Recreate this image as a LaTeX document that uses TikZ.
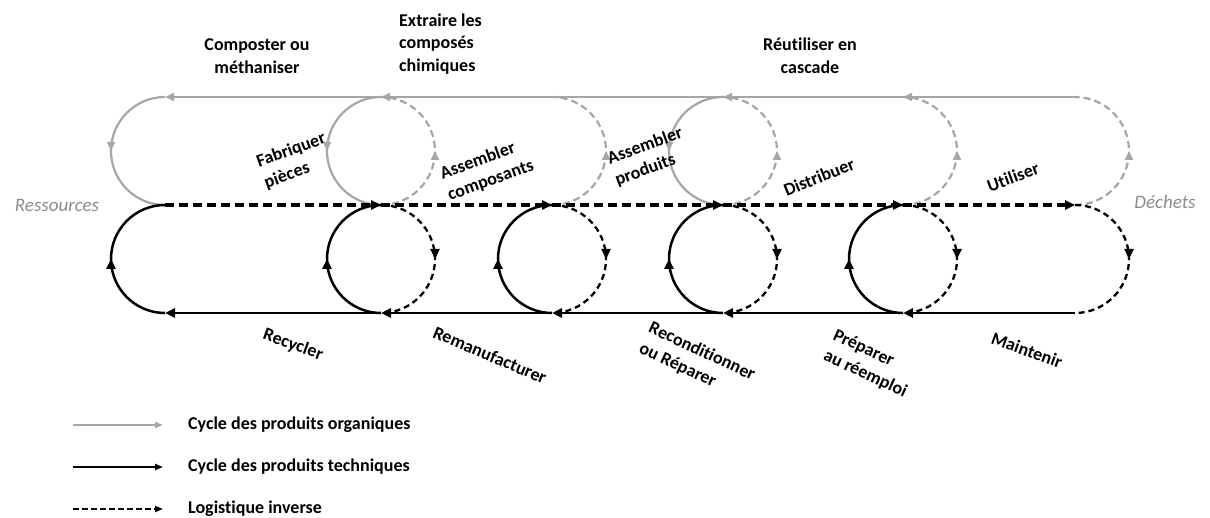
\documentclass[tikz,border=0pt]{standalone}
\usepackage{fontspec}
\setmainfont[Ligatures=NoCommon]{Carlito}
\usepackage{tikz}
\usetikzlibrary{arrows.meta,decorations.markings,positioning}
\definecolor{orggray}{RGB}{166,166,166}
\definecolor{endgray}{RGB}{140,140,140}

\begin{document}
\begin{tikzpicture}[x=1pt,y=1pt,
organic/.style={draw=orggray,line width=2.2pt},
orgdash/.style={organic,dash pattern=on 7pt off 4pt},
technic/.style={draw=black,line width=2.5pt},
inverse/.style={draw=black,line width=3.3pt,dash pattern=on 9pt off 5pt},
invarc/.style={draw=black,line width=2.3pt,dash pattern=on 6pt off 4pt},
gtip/.style={-{Triangle[length=9pt,width=8pt]}},
btip/.style={-{Triangle[length=10pt,width=9pt]}},
gmid/.style={postaction={decorate,decoration={markings,
    mark=at position 0.5 with {\arrow{Triangle[length=9pt,width=8pt,color=orggray]}}}}},
bmid/.style={postaction={decorate,decoration={markings,
    mark=at position 0.5 with {\arrow{Triangle[length=10pt,width=9pt,color=black]}}}}},
lbl/.style={font=\bfseries\fontsize{18}{22.5}\selectfont,inner sep=0pt},
endlbl/.style={font=\itshape\fontsize{19}{23}\selectfont,text=endgray,inner sep=0pt}
]
\useasboundingbox (0,0) rectangle (1210,-518);
%
\foreach \n/\x in {0/165,1/381,2/552,3/723,4/903,5/1075}{
  \coordinate (t\n) at (\x,-97);
  \coordinate (m\n) at (\x,-205);
  \coordinate (b\n) at (\x,-313);
}
% organic cycle
\draw[organic,gtip] (t5) -- (t4);
\draw[organic,gtip] (t4) -- (t3);
\draw[organic,gtip] (t3) -- (t1);
\draw[organic,gtip] (t1) -- (t0);
\draw[organic,gmid] (t0) arc[start angle=90,end angle=270,radius=54];
\draw[organic,gmid] (t1) arc[start angle=90,end angle=270,radius=54];
\draw[organic,gmid] (t3) arc[start angle=90,end angle=270,radius=54];
\draw[orgdash,gmid] (m1) arc[start angle=-90,end angle=90,radius=54];
\draw[orgdash,gmid] (m2) arc[start angle=-90,end angle=90,radius=54];
\draw[orgdash,gmid] (m3) arc[start angle=-90,end angle=90,radius=54];
\draw[orgdash,gmid] (m4) arc[start angle=-90,end angle=90,radius=54];
\draw[orgdash,gmid] (m5) arc[start angle=-90,end angle=90,radius=54];
% technical cycle
\draw[technic,btip] (b5) -- (b4);
\draw[technic,btip] (b4) -- (b3);
\draw[technic,btip] (b3) -- (b2);
\draw[technic,btip] (b2) -- (b1);
\draw[technic,btip] (b1) -- (b0);
\draw[technic,bmid] (b0) arc[start angle=270,end angle=90,radius=54];
\draw[technic,bmid] (b1) arc[start angle=270,end angle=90,radius=54];
\draw[technic,bmid] (b2) arc[start angle=270,end angle=90,radius=54];
\draw[technic,bmid] (b3) arc[start angle=270,end angle=90,radius=54];
\draw[technic,bmid] (b4) arc[start angle=270,end angle=90,radius=54];
\draw[invarc,bmid] (m1) arc[start angle=90,end angle=-90,radius=54];
\draw[invarc,bmid] (m2) arc[start angle=90,end angle=-90,radius=54];
\draw[invarc,bmid] (m3) arc[start angle=90,end angle=-90,radius=54];
\draw[invarc,bmid] (m4) arc[start angle=90,end angle=-90,radius=54];
\draw[invarc,bmid] (m5) arc[start angle=90,end angle=-90,radius=54];
% main flow
\draw[inverse,btip] (m0) -- (m1);
\draw[inverse,btip] (m1) -- (m2);
\draw[inverse,btip] (m2) -- (m3);
\draw[inverse,btip] (m3) -- (m4);
\draw[inverse,btip] (m4) -- (m5);
% labels
\node[endlbl] (res) at (57,-205) {Ressources};
\node[endlbl] (dec) at (1165,-202) {Déchets};
\node[lbl,align=center] (compost) at (257,-56) {Composter ou\\méthaniser};
\node[lbl,align=left,anchor=west] (extract) at (399,-44) {Extraire les\\composés\\chimiques};
\node[lbl,align=center] (cascade) at (810,-56) {Réutiliser en\\cascade};
\node[lbl,align=left,rotate=20] (fab) at (295,-161) {Fabriquer\\pièces};
\node[lbl,align=left,rotate=20] (asmc) at (487,-170) {Assembler\\composants};
\node[lbl,align=left,rotate=20] (asmp) at (649,-157) {Assembler\\produits};
\node[lbl,rotate=22] (distr) at (819,-177) {Distribuer};
\node[lbl,rotate=20] (util) at (1013,-177) {Utiliser};
\node[lbl,rotate=-20] (recyc) at (293,-345) {Recycler};
\node[lbl,rotate=-23] (reman) at (490,-355) {Remanufacturer};
\node[lbl,align=left,rotate=-25] (recond) at (697,-362) {Reconditionner\\ou Réparer};
\node[lbl,align=left,rotate=-25] (prep) at (870,-364) {Préparer\\au réemploi};
\node[lbl,rotate=-20] (maint) at (1027,-350) {Maintenir};
% legend
\coordinate (lg1a) at (73,-425); \coordinate (lg1b) at (163,-425);
\coordinate (lg2a) at (73,-467); \coordinate (lg2b) at (163,-467);
\coordinate (lg3a) at (73,-509); \coordinate (lg3b) at (163,-509);
\draw[draw=orggray,line width=2pt,-{Triangle[length=8pt,width=6pt]}] (lg1a) -- (lg1b);
\draw[draw=black,line width=2pt,-{Triangle[length=8pt,width=6pt]}] (lg2a) -- (lg2b);
\draw[draw=black,line width=2pt,dash pattern=on 6pt off 3pt,-{Triangle[length=8pt,width=6pt]}] (lg3a) -- (lg3b);
\node[lbl,anchor=west] (lgorg) at (188,-425) {Cycle des produits organiques};
\node[lbl,anchor=west] (lgtech) at (188,-467) {Cycle des produits techniques};
\node[lbl,anchor=west] (lginv) at (188,-509) {Logistique inverse};
\end{tikzpicture}
\end{document}
